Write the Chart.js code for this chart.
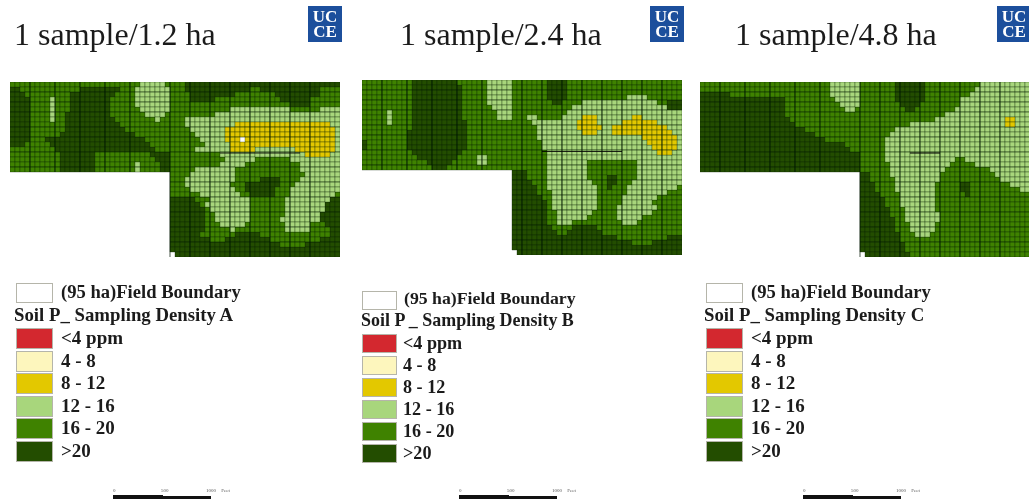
<!DOCTYPE html>
<html><head><meta charset="utf-8">
<script src="https://cdn.jsdelivr.net/npm/chart.js@4"></script>
<style>
html,body{margin:0;padding:0;background:#fff;width:1029px;height:500px;overflow:hidden}
.t{position:absolute;font-family:"Liberation Serif",serif;color:#1b1b1b;white-space:nowrap;line-height:1;filter:blur(.3px)}
.b{font-weight:bold}
.sw{position:absolute;box-sizing:border-box;border:1px solid #b5b5aa;filter:blur(.3px)}
.logo{position:absolute;width:34px;height:36px;background:#1c4f9c;color:#fff;font:bold 17px/15px "Liberation Serif",serif;text-align:center;padding-top:3px;box-sizing:border-box;filter:blur(.3px)}
.cv{position:absolute}
.bar{position:absolute;background:#111}
</style></head><body>
<script>
const classNames=['<4 ppm','4 - 8','8 - 12','12 - 16','16 - 20','>20'];
const classColors=['#d3282f','#fdf6bd','#e3c800','#a8d67c','#3f8200','#234d00'];
const codeToClass={y:2,l:3,m:4,d:5,w:-1};
const titles=['1 sample/1.2 ha','1 sample/2.4 ha','1 sample/4.8 ha'];
const boundaryLabel='(95 ha)Field Boundary';
const densityLabels=['Soil P_ Sampling Density A','Soil P _ Sampling Density B','Soil P_ Sampling Density C'];
const scaleLabels=['0','500','1000 Feet'];

const mapA=[
"m26 l31 m35 d66","d2 m14 d22 m25 l32 m35 d48 m50 d62 m66","d3 m12 d21 m25 l32 m36 d45 m53 d62 m66",
"d4 m8 l9 m12 d20 m25 l32 m36 d41 m54 d60 m66","d4 m8 l9 m12 d20 m25 l32 m56 d60 m66","d4 m8 l9 m12 d20 m26 l32 m44 l56 m62 l66",
"d4 m8 l9 m11 d20 m27 l31 m41 l66","d4 m8 l9 m11 d21 m29 l30 m35 l66","d4 m11 d22 m35 l45 y64 l66",
"d4 m11 d23 m36 l43 y65 l66","d4 m10 d25 m37 l43 y65 l66","d4 m7 d27 m38 l43 y46 w47 y65 l66",
"d3 m8 d28 m39 l44 y65 l66","m9 d29 m37 l44 y49 l57 y65 l66","m10 d17 m28 d32 m42 l59 y64 l66",
"m10 d17 m29 d32 m43 l49 m56 l66","m10 d17 m25 l26 m30 d32 m42 l47 m58 l66","m10 d17 m25 l26 m30 d32 m37 l45 m58 l66",
"_32 m36 l45 m59 l66","_32 m35 l45 m50 d54 m58 l66","_32 m35 l44 m47 d54 m57 l66",
"_32 m36 l45 m47 d53 m56 l66","_32 m38 l46 m48 d53 m56 l65 m66","_32 d37 m40 l48 m55 l64 d66",
"_32 d38 m39 l48 m55 l63 d66","_32 d39 m40 l48 m55 l63 d66","_32 d39 m41 l48 m55 l62 d66",
"_32 d39 m41 l48 m54 l62 d66","_32 d39 m42 l47 m55 l60 m63 d66","_32 d39 m44 l45 m55 l60 m64 d66",
"_32 d38 m45 d50 m64 d66","_32 d40 m43 d52 m62 d66","_32 d54 m59 d66","_32 d66","_33 d66"];
const mapB=[
"m10 d19 m25 l30 m37 d41 m64","m10 d20 m25 l30 m37 d41 m64","m10 d20 m25 l30 m37 d41 m64",
"m10 d20 m25 l30 m37 d41 m53 l57 m64","m10 d20 m25 l30 m38 d40 m44 l59 m61 d64","m10 d20 m26 l30 m42 l61 d64",
"m5 l6 m10 d20 m27 l30 m41 l64","m5 l6 m10 d20 m27 l30 m33 l35 m40 l44 y47 l54 y56 l64","m5 l6 m10 d21 m34 l43 y47 l52 y59 l64",
"m10 d21 m35 l43 y48 l50 y61 l64","m9 d21 m35 l44 y47 l50 y62 l64","m9 d21 m35 l56 y63 l64",
"d1 m9 d21 m36 l57 y63 l64","d1 m9 d21 m36 l58 y63 l64","m10 d20 m37 l59 y62 l64",
"m11 d19 m23 l25 m37 l64","m13 d18 m23 l25 m37 l45 m55 l64","m14 d17 m37 l45 m55 l64",
"_30 d33 m37 l45 m55 l64","_30 d33 m37 l45 m49 d51 m55 l64","_30 d34 m37 l46 m49 d51 m54 l64",
"_30 d35 m37 l47 m49 d50 m53 l63 m64","_30 d35 m38 l47 m53 l61 m64","_30 d36 m38 l47 m52 l59 m64",
"_30 d37 m38 l47 m52 l58 m64","_30 d37 m38 l47 m51 l59 m64","_30 d37 m39 l46 m51 l58 m64",
"_30 d37 m39 l45 m51 l56 m64","_30 d37 m39 l42 m52 l55 m64","_30 d38 m42 d47 m64",
"_30 d39 m41 d48 m64","_30 d51 m61 d64","_30 d54 m58 d64","_30 d64","_31 d64"];
const mapC=[
"m26 l32 m39 d45 m56 l66","m26 l32 m39 d45 m55 l66","d6 m26 l32 m39 d45 m54 l66",
"d17 m27 l32 m39 d45 m52 l66","d17 m28 l32 m40 d44 m52 l66","d17 m29 l31 m41 d43 m51 l66",
"d17 m49 l66","d18 m47 l61 y63 l66","d19 m42 l61 y63 l66",
"d21 m39 l66","d23 m38 l66","d25 m37 l66",
"d29 m37 l66","d30 m37 l66","d32 m37 l66",
"d32 m37 l51 m53 l66","d32 m38 l50 m55 l66","d32 m38 l49 m58 l66",
"_32 d34 m38 l48 m59 l66","_32 d34 m39 l48 m60 l66","_32 d35 m39 l47 m52 d54 m62 l66",
"_32 d35 m39 l47 m52 d54 m64 l66","_32 d36 m40 l47 m53 d54 m66","_32 d37 m40 l47 m66",
"_32 d37 m40 l47 m66","_32 d38 m41 l47 m66","_32 d38 m41 l48 m66",
"_32 d39 m41 l48 m66","_32 d39 m42 l47 m66","_32 d39 m42 l47 m66",
"_32 d40 m43 l46 m66","_32 d40 m66","_32 d41 m66","_32 d41 m66","_33 d42 m66"];
const majorRows=[2,4,6,9,11,14,17,20,23,26,29,32];
const majorCols=[4,9,14,19,24,32,36,40,44,48,52,56,60];
const seamRow=[14.2,14.3,14.2];

const maps=[
 {rows:mapA,cols:66,x:10,y:82,title:[14,18],logo:[308,6],box:[16,283,37,20],head:[61,283],dens:[14,306],sw:[16,328,22.6,37,21],lab:61,bar:113,seam:[42,58],fs:1},
 {rows:mapB,cols:64,x:362,y:80,title:[400,18],logo:[650,6],box:[362,291,35,19],head:[404,290],dens:[361,312],sw:[362,334,21.9,35,19],lab:403,bar:459,seam:[36,52],fs:.955},
 {rows:mapC,cols:66,x:700,y:82,title:[735,18],logo:[997,6],box:[706,283,37,20],head:[751,283],dens:[704,306],sw:[706,328,22.6,37,21],lab:751,bar:803,seam:[42,48],fs:1}
];
const CELL=5;
function el(cls,css,text){const e=document.createElement('div');e.className=cls;Object.assign(e.style,css);if(text!=null)e.textContent=text;document.body.appendChild(e);return e;}
function cells(rows){
  const out=[[],[],[],[],[],[]],white=[];
  rows.forEach((row,r)=>{let c=0;row.split(' ').forEach(run=>{const code=run[0],end=+run.slice(1);
    for(;c<end;c++){ if(code==='_')continue; if(code==='w')white.push({x:c+.5,y:r+.5}); else out[codeToClass[code]].push({x:c+.5,y:r+.5}); }});});
  return {out,white};
}
function firstCol(row){const f=row.split(' ')[0];return f[0]==='_'?+f.slice(1):0;}
function majors(m){
  const pts=[];
  majorRows.forEach(r=>{pts.push({x:firstCol(m.rows[r]),y:r},{x:m.cols,y:r},{x:NaN,y:NaN});});
  majorCols.forEach(c=>{const bottom=c<firstCol(m.rows[m.rows.length-2])?18:m.rows.length;pts.push({x:c,y:0},{x:c,y:bottom},{x:NaN,y:NaN});});
  return pts;
}
maps.forEach((m,i)=>{
  el('t',{left:m.title[0]+'px',top:m.title[1]+'px',fontSize:'32px'},titles[i]);
  const lg=el('logo',{left:m.logo[0]+'px',top:m.logo[1]+'px'});lg.innerHTML='UC<br>CE';
  el('sw',{left:m.box[0]+'px',top:m.box[1]+'px',width:m.box[2]+'px',height:m.box[3]+'px',background:'#fff'});
  el('t b',{left:m.head[0]+'px',top:m.head[1]+'px',fontSize:(18.6*m.fs)+'px'},boundaryLabel);
  el('t b',{left:m.dens[0]+'px',top:m.dens[1]+'px',fontSize:(18.8*m.fs)+'px'},densityLabels[i]);
  classNames.forEach((n,k)=>{const y=m.sw[1]+k*m.sw[2];
    el('sw',{left:m.sw[0]+'px',top:y+'px',width:m.sw[3]+'px',height:m.sw[4]+'px',background:classColors[k]});
    el('t b',{left:m.lab+'px',top:y+'px',fontSize:(19*m.fs)+'px'},n);
  });
  el('bar',{left:m.bar+'px',top:'495px',width:'50px',height:'4px'});
  el('bar',{left:(m.bar+50)+'px',top:'496px',width:'48px',height:'3px'});
  [0,48,93].forEach((dx,k)=>el('t',{left:(m.bar+dx)+'px',top:'488px',fontSize:'5px',color:'#555',wordSpacing:'4px'},scaleLabels[k]));

  const W=m.cols*CELL,H=m.rows.length*CELL;
  const wrap=el('cv',{left:m.x+'px',top:m.y+'px',width:W+'px',height:H+'px',filter:'blur(0.5px)'});
  const cv=document.createElement('canvas');cv.width=W;cv.height=H;cv.style.width=W+'px';cv.style.height=H+'px';wrap.appendChild(cv);
  const {out,white}=cells(m.rows);
  const radius=CELL/Math.SQRT2;
  const ds=classNames.map((n,k)=>({label:n,data:out[k],pointStyle:'rect',pointRadius:radius,pointBackgroundColor:classColors[k],pointBorderColor:'rgba(10,30,0,.32)',pointBorderWidth:1}));
  ds.push({label:'nodata',data:white,pointStyle:'rect',pointRadius:radius,pointBackgroundColor:'#fff',pointBorderWidth:0});
  ds.push({label:'grid',type:'line',data:majors(m),showLine:true,spanGaps:false,pointRadius:0,borderColor:'rgba(5,20,0,.28)',borderWidth:1,order:-1});
  ds.push({label:'seam',type:'line',data:[{x:m.seam[0],y:seamRow[i]},{x:m.seam[1],y:seamRow[i]}],showLine:true,pointRadius:0,borderColor:'rgba(0,0,0,.85)',borderWidth:1.2,order:-2});
  new Chart(cv,{type:'scatter',data:{datasets:ds},options:{responsive:false,animation:false,layout:{padding:0,autoPadding:false},events:[],
    plugins:{legend:{display:false},tooltip:{enabled:false}},
    scales:{x:{type:'linear',min:0,max:m.cols,display:false},y:{type:'linear',min:0,max:m.rows.length,reverse:true,display:false}}}});
});
</script>
</body></html>
